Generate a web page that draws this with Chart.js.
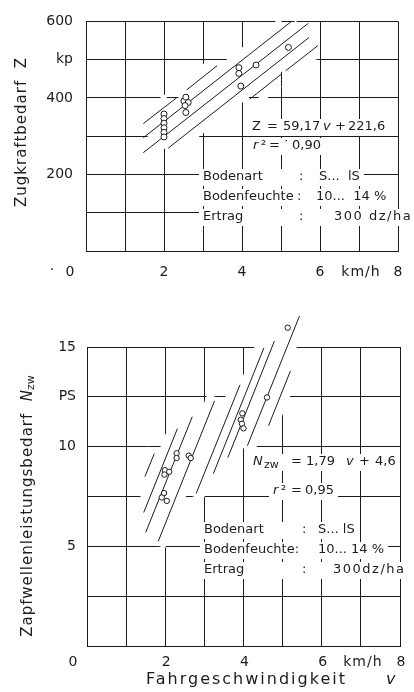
<!DOCTYPE html>
<html>
<head>
<meta charset="utf-8">
<script src="https://cdn.jsdelivr.net/npm/chart.js@4.4.1/dist/chart.umd.min.js"></script>
<style>
  body { margin: 0; background: #fff; }
  canvas { position: absolute; left: 0; }
  #zug { top: 0; }
  #zapf { top: 300px; }
</style>
</head>
<body>
<canvas id="zug" width="414" height="300"></canvas>
<canvas id="zapf" width="414" height="392"></canvas>
<script>
// Zugkraftbedarf Z (kp) ueber Fahrgeschwindigkeit v (km/h)
const zugV = [2.0, 2.0, 2.0, 2.0, 2.0, 2.0, 2.51, 2.56, 2.62, 2.54, 2.56, 3.92, 3.92, 3.97, 4.36, 5.19];
const zugZ = [358, 346, 334, 322, 310, 298, 392, 402, 388, 380, 362, 479, 464, 431, 486, 532];
// Streubereich als Geradenstuecke [v1, Z1, v2, Z2]
const zugBand = [
  [1.47, 333, 2.33, 401],
  [2.58, 421, 3.36, 484],
  [1.47, 296, 5.27, 600],
  [1.47, 257, 5.70, 595],
  [2.11, 269, 5.72, 558],
  [4.20, 397, 5.02, 463],
  [5.12, 471, 5.95, 537]
];
const zugYTicks = [600, 500, 400, 200];
const zugYLabels = ["600", "kp", "400", "200"];

// Zapfwellenleistungsbedarf N_zw (PS) ueber v (km/h)
const zapfV = [5.13, 4.60, 3.97, 3.93, 3.96, 4.00, 2.29, 2.29, 2.60, 2.65, 1.99, 2.10, 1.98, 1.97, 1.91, 2.04];
const zapfN = [15.97, 12.47, 11.67, 11.35, 11.15, 10.92, 9.67, 9.43, 9.55, 9.43, 8.82, 8.74, 8.60, 7.67, 7.45, 7.28];
const zapfBand = [
  [1.48, 8.50, 1.72, 9.65],
  [1.45, 6.70, 2.31, 10.90],
  [1.50, 5.70, 2.69, 11.50],
  [1.82, 5.25, 3.26, 12.30],
  [2.79, 7.65, 3.91, 13.10],
  [3.23, 8.65, 4.52, 14.95],
  [3.60, 9.45, 4.79, 15.30],
  [4.10, 10.05, 5.43, 16.55],
  [4.64, 11.05, 5.20, 13.80]
];
const zapfYTicks = [15, 12.5, 10, 5];
const zapfYLabels = ["15", "PS", "10", "5"];

const xTicks = [2, 4, 6, 8];
const xUnit = "km/h";

const INK = "#1c1c1c";
const FAM = "'DejaVu Sans'";
const STYLES = {
  n:    { font: "13px " + FAM },
  i:    { font: "italic 13px " + FAM },
  sub:  { font: "11px " + FAM, dy: 3 },
  sp:   { font: "13px " + FAM, ls: "1.5px" },
  tick: { font: "14px " + FAM },
  unit: { font: "14px " + FAM, ls: "1px" },
  ttl:  { font: "15px " + FAM, ls: "1px" },
  ttli: { font: "italic 15px " + FAM },
  ttls: { font: "11px " + FAM, dy: 3 },
  xt:   { font: "16px " + FAM, ls: "2px" },
  xti:  { font: "italic 16px " + FAM }
};

// lay out a run of [text, style, x?] tokens; x continues from the previous token if omitted
function layoutRun(ctx, tokens, x0) {
  let x = x0 || 0;
  return tokens.map(([t, st, tx]) => {
    const s = STYLES[st];
    if (tx !== undefined) x = tx;
    ctx.font = s.font;
    ctx.letterSpacing = s.ls || "0px";
    const w = ctx.measureText(t).width;
    const item = { t, s, x, w };
    x += w;
    return item;
  });
}

function drawRun(ctx, items, y) {
  ctx.fillStyle = INK;
  ctx.textBaseline = "middle";
  ctx.textAlign = "left";
  items.forEach(it => {
    ctx.font = it.s.font;
    ctx.letterSpacing = it.s.ls || "0px";
    ctx.fillText(it.t, it.x, y + (it.s.dy || 0));
  });
  ctx.letterSpacing = "0px";
}

function decor(o) {
  return {
    id: "decor",
    beforeDatasetsDraw(chart) {
      const ctx = chart.ctx, xs = chart.scales.x, ys = chart.scales.y;
      ctx.save();
      // gaps in the grid along the band lines
      ctx.strokeStyle = "#fff";
      ctx.lineWidth = o.gap;
      ctx.lineCap = "butt";
      o.band.forEach(s => {
        const x1 = xs.getPixelForValue(s[0]), y1 = ys.getPixelForValue(s[1]);
        const x2 = xs.getPixelForValue(s[2]), y2 = ys.getPixelForValue(s[3]);
        const len = Math.hypot(x2 - x1, y2 - y1);
        const ux = (x2 - x1) / len, uy = (y2 - y1) / len;
        ctx.beginPath();
        ctx.moveTo(x1 + ux * o.trim, y1 + uy * o.trim);
        ctx.lineTo(x2 - ux * o.trim, y2 - uy * o.trim);
        ctx.stroke();
      });
      // white boxes behind the notes
      ctx.fillStyle = "#fff";
      o.notes.forEach(([y, tokens]) => {
        const items = layoutRun(ctx, tokens);
        const a = items[0].x, b = items[items.length - 1].x + items[items.length - 1].w;
        ctx.fillRect(a - 4, y - 8, b - a + 8, 17);
      });
      ctx.restore();
    },
    afterDatasetsDraw(chart) {
      // Chart.js skips points outside the chart area; draw those here
      const ctx = chart.ctx, xs = chart.scales.x, ys = chart.scales.y, area = chart.chartArea;
      ctx.save();
      ctx.strokeStyle = INK;
      ctx.fillStyle = "#fff";
      ctx.lineWidth = 1;
      o.v.forEach((v, i) => {
        const px = xs.getPixelForValue(v), py = ys.getPixelForValue(o.y[i]);
        if (py >= area.top && py <= area.bottom && px >= area.left && px <= area.right) return;
        ctx.beginPath();
        ctx.arc(px, py, o.r, 0, Math.PI * 2);
        ctx.fill();
        ctx.stroke();
      });
      ctx.restore();
    },
    afterDraw(chart) {
      const ctx = chart.ctx, xs = chart.scales.x;
      ctx.save();
      o.notes.forEach(([y, tokens]) => drawRun(ctx, layoutRun(ctx, tokens), y));

      // x tick labels; the zero sits left of the frame
      ctx.font = STYLES.tick.font;
      ctx.fillStyle = INK;
      ctx.textAlign = "center";
      ctx.textBaseline = "middle";
      const x0 = xs.getPixelForValue(0);
      ctx.fillText("0", x0 - o.zeroShift, o.xLabelY);
      if (o.dot) ctx.fillText("\u00b7", x0 - o.zeroShift - 18, o.xLabelY - 2);
      xTicks.forEach(v => ctx.fillText(String(v), xs.getPixelForValue(v) + o.tickShift, o.xLabelY));
      ctx.font = STYLES.unit.font;
      ctx.letterSpacing = STYLES.unit.ls;
      ctx.fillText(xUnit, xs.getPixelForValue(7) + 2, o.xLabelY);
      ctx.letterSpacing = "0px";

      // rotated y title
      ctx.translate(o.yTitle.x, o.yTitle.y);
      ctx.rotate(-Math.PI / 2);
      const items = layoutRun(ctx, o.yTitle.tokens);
      const total = items[items.length - 1].x + items[items.length - 1].w;
      items.forEach(it => { it.x -= total / 2; });
      drawRun(ctx, items, 0);
      ctx.setTransform(1, 0, 0, 1, 0, 0);

      if (o.xTitle) drawRun(ctx, layoutRun(ctx, o.xTitle.tokens), o.xTitle.y);
      ctx.restore();
    }
  };
}

function makeChart(id, o) {
  const datasets = [{
    data: o.v.map((v, i) => ({ x: v, y: o.y[i] })),
    pointRadius: o.r,
    pointBorderWidth: 1,
    pointBorderColor: INK,
    pointBackgroundColor: "#fff",
    clip: false
  }];
  o.band.forEach(s => datasets.push({
    data: [{ x: s[0], y: s[1] }, { x: s[2], y: s[3] }],
    showLine: true,
    borderColor: INK,
    borderWidth: 1,
    pointRadius: 0,
    clip: false
  }));
  const tickLabel = v => {
    const i = o.yTicks.findIndex(t => Math.abs(t - v) < 1e-6);
    return i < 0 ? "" : o.yLabels[i];
  };
  return new Chart(document.getElementById(id), {
    type: "scatter",
    data: { datasets },
    options: {
      responsive: false,
      animation: false,
      layout: { padding: o.pad },
      plugins: { legend: { display: false }, tooltip: { enabled: false } },
      scales: {
        x: {
          type: "linear", min: 0, max: 8,
          ticks: { stepSize: 1, display: false },
          grid: { color: INK, lineWidth: 1, drawTicks: false },
          border: { color: INK, width: 1 },
          afterFit: s => { s.height = 0; }
        },
        y: {
          type: "linear", min: 0, max: o.ymax,
          ticks: {
            stepSize: o.ystep, padding: o.tickPad, color: INK,
            font: { family: "DejaVu Sans", size: 14 },
            callback: tickLabel
          },
          grid: { color: INK, lineWidth: 1, drawTicks: false },
          border: { color: INK, width: 1 },
          afterFit: s => { s.width = o.yWidth; }
        }
      }
    },
    plugins: [decor(o)]
  });
}

makeChart("zug", {
  v: zugV, y: zugZ, band: zugBand, r: 3,
  yTicks: zugYTicks, yLabels: zugYLabels, ymax: 600, ystep: 100,
  pad: { left: 0, right: 16, top: 13, bottom: 49 }, yWidth: 86, tickPad: 13,
  gap: 20, trim: 8, xLabelY: 272, zeroShift: 16, dot: true, tickShift: 0,
  yTitle: { x: 22, y: 132, tokens: [["Zugkraftbedarf  Z", "ttl"]] },
  notes: [
    [127, [["Z", "n", 252], ["=", "n", 267], ["59,17", "n", 283], ["v", "i", 323], ["+", "n", 335], ["221,6", "n", 348]]],
    [146, [["r", "i", 253], ["\u00b2", "n", 261], ["=", "n", 269], ["\u02d9", "n", 283], ["0,90", "n", 292]]],
    [177, [["Bodenart", "n", 203], [":", "n", 299], ["S...  lS", "n", 319]]],
    [197, [["Bodenfeuchte", "n", 203], [":", "n", 297], ["10...  14 %", "n", 316]]],
    [217, [["Ertrag", "n", 203], [":", "n", 299], ["300 dz/ha", "sp", 334]]]
  ]
});

makeChart("zapf", {
  v: zapfV, y: zapfN, band: zapfBand, r: 2.7,
  yTicks: zapfYTicks, yLabels: zapfYLabels, ymax: 15, ystep: 2.5,
  pad: { left: 0, right: 14, top: 47, bottom: 46 }, yWidth: 87, tickPad: 11,
  gap: 18, trim: -4, xLabelY: 362, zeroShift: 14, dot: false, tickShift: 1,
  yTitle: { x: 28, y: 206, tokens: [["Zapfwellenleistungsbedarf  ", "ttl"], ["N", "ttli"], ["zw", "ttls"]] },
  xTitle: { y: 380, tokens: [["Fahrgeschwindigkeit", "xt", 146], ["v", "xti", 386]] },
  notes: [
    [162, [["N", "i", 253], ["zw", "sub", 264], ["=", "n", 291], ["1,79", "n", 306], ["v", "i", 346], ["+", "n", 359], ["4,6", "n", 375]]],
    [191, [["r", "i", 273], ["\u00b2", "n", 281], ["=", "n", 291], ["0,95", "n", 305]]],
    [230, [["Bodenart", "n", 204], [":", "n", 302], ["S... lS", "n", 318]]],
    [250, [["Bodenfeuchte:", "n", 204], ["10... 14 %", "n", 318]]],
    [270, [["Ertrag", "n", 204], [":", "n", 302], ["300dz/ha", "sp", 333]]]
  ]
});
</script>
</body>
</html>
